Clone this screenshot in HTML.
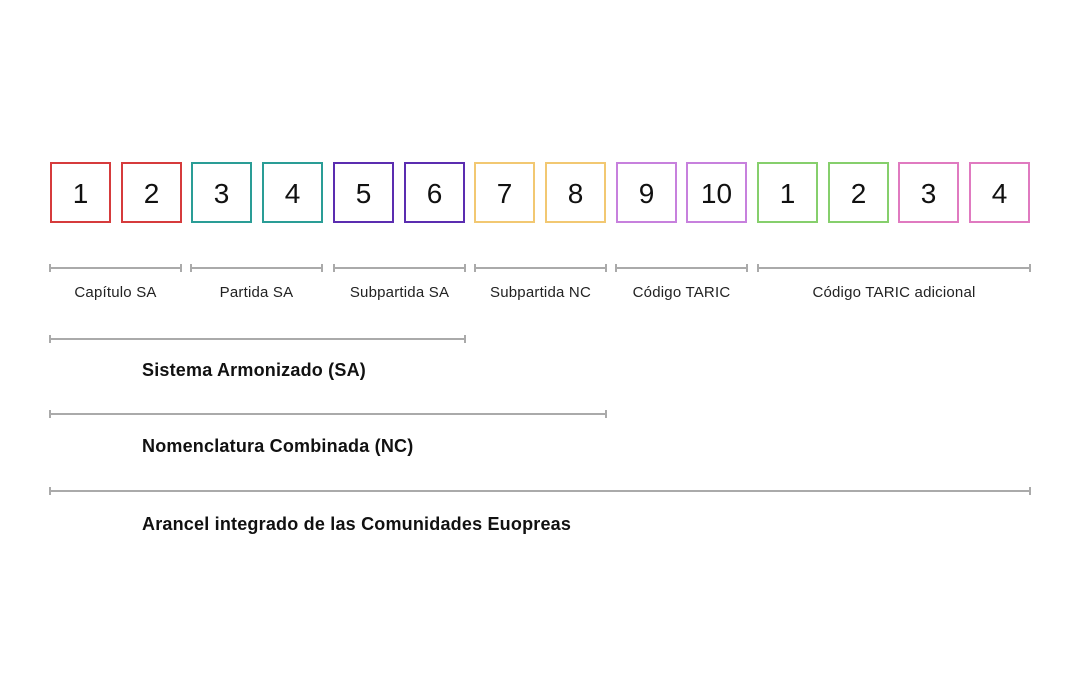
<!DOCTYPE html>
<html><head><meta charset="utf-8"><style>
html,body{margin:0;padding:0;background:#fff;}
body{width:1080px;height:700px;position:relative;overflow:hidden;font-family:"Liberation Sans",sans-serif;}
.b{position:absolute;top:162px;width:57px;height:57px;border:2px solid;box-sizing:content-box;text-align:center;line-height:59px;font-size:28px;color:#111;}
.l{position:absolute;font-size:15px;letter-spacing:0.2px;color:#222;top:284px;text-align:center;}
.t{position:absolute;left:142px;font-size:18px;color:#111;font-weight:bold;letter-spacing:0.2px;}
</style></head><body>
<div class="b" style="left:50px;border-color:#d63b3c">1</div>
<div class="b" style="left:121px;border-color:#d63b3c">2</div>
<div class="b" style="left:191px;border-color:#2a9d96">3</div>
<div class="b" style="left:262px;border-color:#2a9d96">4</div>
<div class="b" style="left:333px;border-color:#5b2db0">5</div>
<div class="b" style="left:404px;border-color:#5b2db0">6</div>
<div class="b" style="left:474px;border-color:#f2c872">7</div>
<div class="b" style="left:545px;border-color:#f2c872">8</div>
<div class="b" style="left:616px;border-color:#c780dd">9</div>
<div class="b" style="left:686px;border-color:#c780dd">10</div>
<div class="b" style="left:757px;border-color:#86cf6c">1</div>
<div class="b" style="left:828px;border-color:#86cf6c">2</div>
<div class="b" style="left:898px;border-color:#e07ac0">3</div>
<div class="b" style="left:969px;border-color:#e07ac0">4</div>
<svg width="1080" height="700" style="position:absolute;left:0;top:0" stroke="#aaa" stroke-width="2">
<g>
<path d="M50 268H181M50 264V272M181 264V272"/>
<path d="M191 268H322M191 264V272M322 264V272"/>
<path d="M334 268H465M334 264V272M465 264V272"/>
<path d="M475 268H606M475 264V272M606 264V272"/>
<path d="M616 268H747M616 264V272M747 264V272"/>
<path d="M758 268H1030M758 264V272M1030 264V272"/>
<path d="M50 339H465M50 335V343M465 335V343"/>
<path d="M50 414H606M50 410V418M606 410V418"/>
<path d="M50 491H1030M50 487V495M1030 487V495"/>
</g></svg>
<div class="l" style="left:50px;width:131px">Capítulo SA</div>
<div class="l" style="left:191px;width:131px">Partida SA</div>
<div class="l" style="left:334px;width:131px">Subpartida SA</div>
<div class="l" style="left:475px;width:131px">Subpartida NC</div>
<div class="l" style="left:616px;width:131px">Código TARIC</div>
<div class="l" style="left:758px;width:272px">Código TARIC adicional</div>
<div class="t" style="top:360px">Sistema Armonizado (SA)</div>
<div class="t" style="top:436px">Nomenclatura Combinada (NC)</div>
<div class="t" style="top:514px">Arancel integrado de las Comunidades Euopreas</div>
</body></html>
